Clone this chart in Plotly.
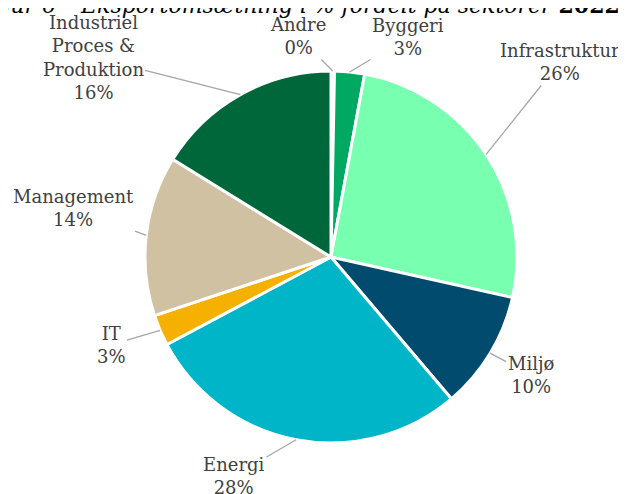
import math
import plotly.graph_objects as go

# sector share of export turnover 2022 (%), clockwise from 12 o'clock
sectors = ["Andre", "Byggeri", "Infrastruktur", "Miljø", "Energi", "IT",
           "Management", "Industriel<br>Proces &<br>Produktion"]
shares = [0.3, 2.6, 25.6, 10.3, 28.4, 2.7, 13.9, 16.2]
colors = ["#FFFFFF", "#00A862", "#78FFB0", "#004B6E", "#00B5C8", "#F5B000",
          "#D1C1A3", "#00673A"]

# label text centres in page pixels (layout only)
label_pos = [(298, 36), (408, 37), (560, 62), (531, 375), (234, 476),
             (111, 345), (73, 208), (93, 57)]

OFF = 8  # page body margin
W, H = 626, 494
ml, mr, mt, mb = 28, 8, 63, 59
pw, ph = W - ml - mr, H - mt - mb
cx, cy = ml + pw / 2, mt + ph / 2
R = min(pw, ph) / 2

fig = go.Figure(go.Pie(
    labels=sectors, values=shares, sort=False, direction="clockwise",
    rotation=0, textinfo="none", hoverinfo="label+percent",
    marker=dict(colors=colors, line=dict(color="white", width=3)),
    showlegend=False,
))

total = sum(shares)
cum = 0
annos = []
for name, v, (lx, ly) in zip(sectors, shares, label_pos):
    mid = (cum + v / 2) / total * 2 * math.pi
    cum += v
    tx = cx + R * math.sin(mid)
    ty = cy - R * math.cos(mid)
    annos.append(dict(
        x=(tx - ml) / pw, y=1 - (ty - mt) / ph, xref="paper", yref="paper",
        text=f"{name}<br>{round(v / total * 100)}%",
        showarrow=True, arrowhead=0, arrowwidth=1.3, arrowcolor="#A6A6A6",
        ax=lx - OFF - tx, ay=ly - OFF - ty, standoff=0,
        font=dict(family="DejaVu Serif", size=18, color="#404040"),
    ))

annos.append(dict(
    x=(622 - OFF - ml) / pw, y=1 + (mt - 12) / ph, xref="paper", yref="paper",
    xanchor="right", yanchor="bottom", showarrow=False,
    text="<i>Figur 6 – Eksportomsætning i % fordelt på sektorer</i> <b>2022</b>",
    font=dict(family="DejaVu Serif", size=22, color="#000000"),
))

fig.update_layout(
    width=W, height=H,
    margin=dict(l=ml, r=mr, t=mt, b=mb),
    paper_bgcolor="white", plot_bgcolor="white",
    annotations=annos,
)
fig.write_html("out.html")
